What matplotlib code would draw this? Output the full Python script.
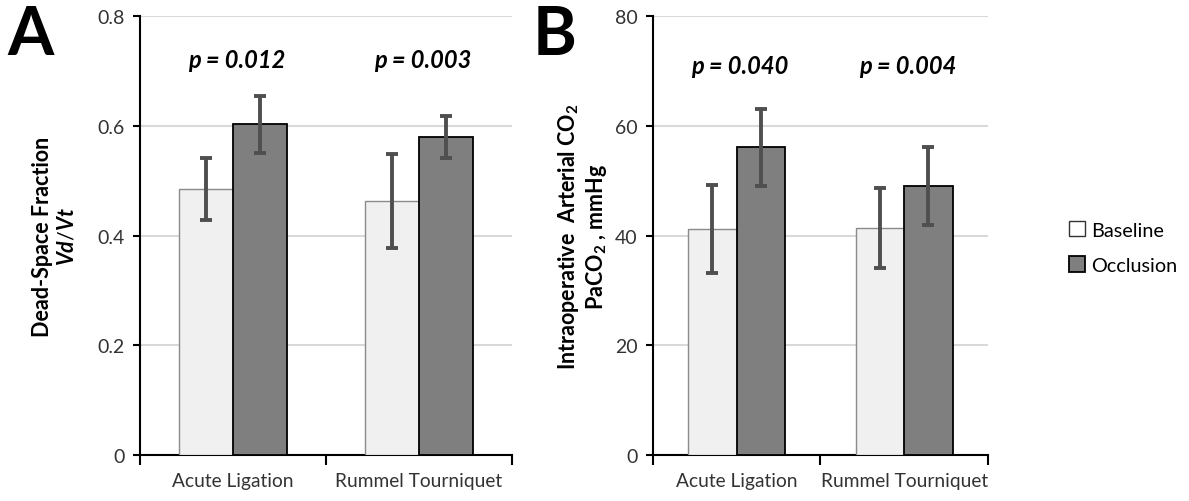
import matplotlib
matplotlib.use("Agg")
import matplotlib.pyplot as plt
import numpy as np
from matplotlib.patches import Patch

plt.rcParams['font.family'] = ['Lato', 'DejaVu Sans']
plt.rcParams['mathtext.fontset'] = 'custom'
plt.rcParams['mathtext.rm'] = 'Lato'
plt.rcParams['mathtext.bf'] = 'Lato:bold'
plt.rcParams['mathtext.it'] = 'Lato:style=italic:weight=bold'

categories = ['Acute Ligation', 'Rummel Tourniquet']
series = ['Baseline', 'Occlusion']

# panel A: dead-space fraction
vd_base = [0.485, 0.463]
vd_base_err = [0.057, 0.085]
vd_occl = [0.603, 0.580]
vd_occl_err = [0.052, 0.038]
vd_p = ['p = 0.012', 'p = 0.003']

# panel B: PaCO2
co2_base = [41.2, 41.4]
co2_base_err = [8.0, 7.3]
co2_occl = [56.1, 49.0]
co2_occl_err = [7.0, 7.1]
co2_p = ['p = 0.040', 'p = 0.004']

base_color = '#f0f0f0'
occl_color = '#7f7f7f'
err_color = '#4f4f4f'


def draw_panel(ax, base, base_err, occl, occl_err, pvals, ymax, ystep, fmt, ptext_y):
    x = np.arange(len(categories))
    w = 0.29
    ax.bar(x - w / 2, base, w, color=base_color, edgecolor='#8a8a8a', linewidth=1.0, zorder=3)
    ax.bar(x + w / 2, occl, w, color=occl_color, edgecolor='black', linewidth=1.3, zorder=3)
    ax.errorbar(x - w / 2, base, yerr=base_err, fmt='none', ecolor=err_color,
                elinewidth=2.8, capsize=4, capthick=2.8, zorder=4)
    ax.errorbar(x + w / 2, occl, yerr=occl_err, fmt='none', ecolor=err_color,
                elinewidth=2.8, capsize=4, capthick=2.8, zorder=4)
    ax.set_xlim(-0.5, len(categories) - 0.5)
    ax.set_ylim(0, ymax)
    ticks = np.arange(0, ymax + ystep / 2, ystep)
    ax.set_yticks(ticks)
    ax.set_yticklabels([fmt(t) for t in ticks], fontsize=14, color='#333333')
    ax.yaxis.grid(True, color='#d9d9d9', linewidth=1.5, zorder=0)
    ax.set_axisbelow(True)
    for s in ['top', 'right']:
        ax.spines[s].set_visible(False)
    for s in ['left', 'bottom']:
        ax.spines[s].set_linewidth(1.5)
    ax.tick_params(axis='y', length=5, width=1.5, pad=6)
    ax.set_xticks(np.arange(-0.5, len(categories), 1.0))
    ax.set_xticklabels([])
    ax.tick_params(axis='x', which='major', length=7, width=1.5)
    ax.set_xticks(x, minor=True)
    ax.set_xticklabels(categories, minor=True, fontsize=13.8, color='#333333')
    ax.tick_params(axis='x', which='minor', length=0, pad=12)
    for xi, p in zip(x, pvals):
        ax.text(xi + 0.02, ptext_y, p, ha='center', va='center', fontsize=17,
                fontweight='bold', fontstyle='italic', color='black')


fig = plt.figure(figsize=(11.89, 5.02), dpi=100)
axA = fig.add_axes([0.1177, 0.0916, 0.3129, 0.8745])
axB = fig.add_axes([0.5492, 0.0916, 0.2817, 0.8745])

draw_panel(axA, vd_base, vd_base_err, vd_occl, vd_occl_err, vd_p, 0.8, 0.2,
           lambda t: '0' if t == 0 else f'{t:.1f}', 0.72)
draw_panel(axB, co2_base, co2_base_err, co2_occl, co2_occl_err, co2_p, 80, 20,
           lambda t: f'{int(t)}', 71)

axA.set_ylabel('Dead-Space Fraction\n' + r'$\mathit{Vd/Vt}$', fontsize=15.5,
               fontweight='bold', labelpad=14, linespacing=1.25)
axB.set_ylabel(r'Intraoperative  Arterial CO$_\mathbf{2}$' + '\n' + r'PaCO$_\mathbf{2}$ , mmHg',
               fontsize=15.5, fontweight='bold', labelpad=4, linespacing=1.2)

fig.text(0.006, 0.99, 'A', fontsize=48, fontweight='bold', va='top', ha='left')
fig.text(0.448, 0.99, 'B', fontsize=48, fontweight='bold', va='top', ha='left')

handles = [Patch(facecolor='white', edgecolor='#333333', linewidth=1.0),
           Patch(facecolor=occl_color, edgecolor='black', linewidth=1.3)]
fig.legend(handles, series, loc='center left', bbox_to_anchor=(0.884, 0.505),
           frameon=False, fontsize=14.3, handlelength=0.8, handleheight=0.8,
           handletextpad=0.3, labelspacing=0.9)

fig.savefig('out.png', dpi=100)
